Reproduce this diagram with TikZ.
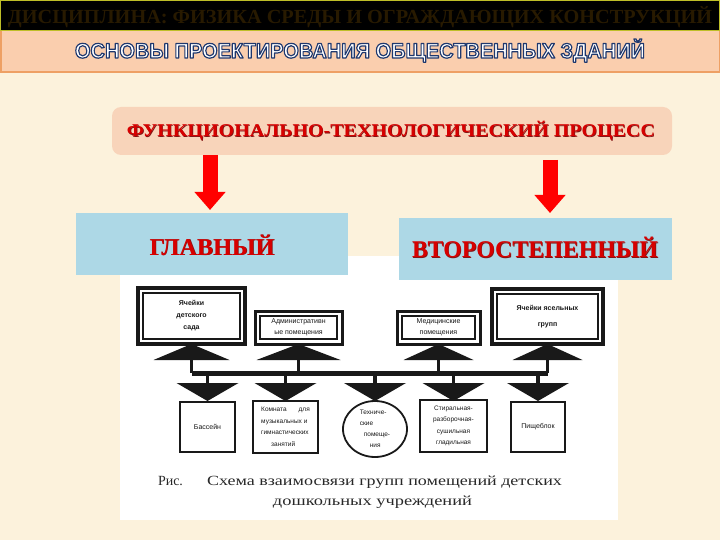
\documentclass[tikz,border=0pt]{standalone}
\usepackage{fontspec}
\setmainfont{Liberation Serif}
\setsansfont{Liberation Sans}
\newfontfamily\scanfont{Liberation Sans}
\usetikzlibrary{calc,arrows.meta,shapes.geometric}
\definecolor{bgcream}{RGB}{252,242,220}
\definecolor{ybar}{RGB}{255,255,0}
\definecolor{ybord}{RGB}{190,190,40}
\definecolor{pbar}{RGB}{250,206,174}
\definecolor{pbord}{RGB}{238,160,100}
\definecolor{pbox}{RGB}{248,212,186}
\definecolor{bbox}{RGB}{173,216,230}
\definecolor{tred}{RGB}{215,0,0}
\definecolor{tshadow}{RGB}{130,20,20}
\definecolor{tbrown}{RGB}{40,26,0}
\definecolor{arrred}{RGB}{255,0,0}
\definecolor{scan}{RGB}{25,25,25}
\definecolor{captxt}{RGB}{40,40,40}
\newcommand\ttwo{\special{pdf:literal direct 0.12 0.22 0.43 RG 1.2 w 1 j 2 Tr}%
  \resizebox{570pt}{\height}{\fontsize{21}{21}\selectfont\bfseries\sffamily ОСНОВЫ ПРОЕКТИРОВАНИЯ ОБЩЕСТВЕННЫХ ЗДАНИЙ}%
  \special{pdf:literal direct 0 Tr}}
\newcommand\tproc{\resizebox{528pt}{\height}{\fontsize{18}{18}\selectfont\bfseries ФУНКЦИОНАЛЬНО-ТЕХНОЛОГИЧЕСКИЙ ПРОЦЕСС}}
\newcommand\tglav{\resizebox{125pt}{\height}{\fontsize{24}{24}\selectfont\bfseries ГЛАВНЫЙ}}
\newcommand\tsec{\resizebox{246pt}{\height}{\fontsize{24}{24}\selectfont\bfseries ВТОРОСТЕПЕННЫЙ}}
\begin{document}
\begin{tikzpicture}[x=1pt,y=-1pt,
  every node/.style={inner sep=0pt,outer sep=0pt},
  redarrow/.style={draw=arrred, line width=15pt, -{Triangle[width=30pt,length=18pt]}},
  dblbox/.style={draw=scan, line width=3.5pt, fill=white, align=center,
    font=\scanfont\fontsize{7}{12}\selectfont\bfseries, text=scan},
  sglbox/.style={draw=scan, line width=1.8pt, fill=white, align=center,
    font=\scanfont\fontsize{7}{12}\selectfont, text=scan},
  stem/.style={draw=scan, line width=3.5pt},
  busbar/.style={draw=scan, line width=5pt},
  tri/.style={fill=scan}
]
\useasboundingbox (0,0) rectangle (720,540);
\fill[bgcream] (0,0) rectangle (720,540);
% top bar
\fill[ybar] (0,0) rectangle (720,31);
\draw[ybord, line width=1pt] (0.5,0.5) rectangle (719.5,31);
\node[anchor=base, text=tbrown] (t1) at (360,24)
  {\resizebox{704pt}{\height}{\fontsize{20}{20}\selectfont\bfseries ДИСЦИПЛИНА: ФИЗИКА СРЕДЫ И ОГРАЖДАЮЩИХ КОНСТРУКЦИЙ}};
% second bar
\fill[pbar] (0,31) rectangle (720,73);
\draw[pbord, line width=1.5pt] (0.75,31) -- (0.75,72.25) -- (719.25,72.25) -- (719.25,31);
\node[anchor=base, text=white] (t2) at (360,58) {\ttwo};
% process box
\node[fill=pbox, rounded corners=9pt, minimum width=560pt, minimum height=48pt] (proc) at (392,131) {};
\node[anchor=base, text=tshadow] (procs) at (391.6,137.6) {\tproc};
\node[anchor=base, text=tred] (proct) at (391,137) {\tproc};
% white panel
\fill[white] (120,256) rectangle (618,520);
% blue boxes
\node[fill=bbox, minimum width=272pt, minimum height=62pt] (glav) at (212,244) {};
\node[fill=bbox, minimum width=273pt, minimum height=62pt] (sec) at (535.5,249) {};
\node[anchor=base, text=tshadow] (glavs) at (212.7,255.7) {\tglav};
\node[anchor=base, text=tred] (glavt) at (212,255) {\tglav};
\node[anchor=base, text=tshadow] (secs) at (535.7,258.7) {\tsec};
\node[anchor=base, text=tred] (sect) at (535,258) {\tsec};
% arrows
\coordinate (aL) at (210,0);
\coordinate (aR) at (550,0);
\draw[redarrow, shorten >=3pt] (proc.south -| aL) -- (glav.north -| aL);
\draw[redarrow, shorten <=5pt, shorten >=5pt] (proc.south -| aR) -- (sec.north -| aR);
% scheme: top boxes
\node[dblbox, minimum width=107pt, minimum height=56pt] (b1) at (191.5,316) {Ячейки\\детского\\сада};
\node[dblbox, line width=3pt, minimum width=87pt, minimum height=33pt, font=\scanfont\fontsize{7}{11}\selectfont] (b2) at (298.5,327.5) {Административн\\ые помещения};
\node[dblbox, line width=3pt, minimum width=83pt, minimum height=33pt, font=\scanfont\fontsize{7}{11}\selectfont] (b3) at (438.5,327.5) {Медицинские\\помещения};
\node[dblbox, minimum width=111pt, minimum height=55pt, font=\scanfont\fontsize{7}{16}\selectfont\bfseries] (b5) at (547.5,316.5) {Ячейки ясельных\\групп};
\foreach \b in {b1,b2,b3,b5}{
  \draw[scan, line width=1.2pt] ($(\b.north west)+(5,5)$) rectangle ($(\b.south east)+(-5,-5)$);
}
% bus bar
\coordinate (busY) at (0,373);
\draw[busbar] (b1.south |- busY) -- (b5.south |- busY);
% top triangles and stems
\foreach \b/\w in {b1/38,b2/42,b3/35,b5/35}{
  \fill[tri] (\b.south) -- ($(\b.south)+(-\w,16)$) -- ($(\b.south)+(\w,16)$) -- cycle;
  \draw[stem] ($(\b.south)+(0,15)$) -- (\b.south |- busY);
}
% bottom boxes
\node[sglbox, minimum width=55pt, minimum height=50pt] (c1) at (207.5,427) {Бассейн};
\node[sglbox, minimum width=65pt, minimum height=52pt, align=left, font=\scanfont\fontsize{6.5}{11.5}\selectfont] (c2) at (285.5,427) {Комната\hspace{12pt}для\\музыкальных и\\гимнастических\\\hspace*{10pt}занятий};
\node[sglbox, ellipse, minimum width=64pt, minimum height=56pt, font=\scanfont\fontsize{6.5}{11}\selectfont, align=left] (c3) at (375,429) {Техниче-\\ские\\\hspace*{4pt}помеще-\\\hspace*{10pt}ния};
\node[sglbox, minimum width=67pt, minimum height=52pt, font=\scanfont\fontsize{6.5}{11.5}\selectfont] (c4) at (453.5,426) {Стиральная-\\разборочная-\\сушильная\\гладильная};
\node[sglbox, minimum width=54pt, minimum height=50pt] (c5) at (538,427) {Пищеблок};
% bottom triangles and stems
\foreach \c in {c1,c2,c3,c4,c5}{
  \fill[tri] ($(\c.north |- busY)+(-31,10)$) -- ($(\c.north |- busY)+(31,10)$) -- ($(\c.north |- busY)+(0,28)$) -- cycle;
  \draw[stem] (\c.north |- busY) -- ($(\c.north |- busY)+(0,11)$);
}
% caption
\node[anchor=base west, text=captxt] (ris) at (158,485) {\fontsize{14}{14}\selectfont Рис.};
\node[anchor=base west, text=captxt] (cap1) at (207,485)
  {\resizebox{355pt}{\height}{\fontsize{14}{14}\selectfont Схема взаимосвязи групп помещений детских}};
\node[anchor=base, text=captxt] (cap2) at (372.5,505)
  {\resizebox{199pt}{\height}{\fontsize{14}{14}\selectfont дошкольных учреждений}};
\end{tikzpicture}
\end{document}
